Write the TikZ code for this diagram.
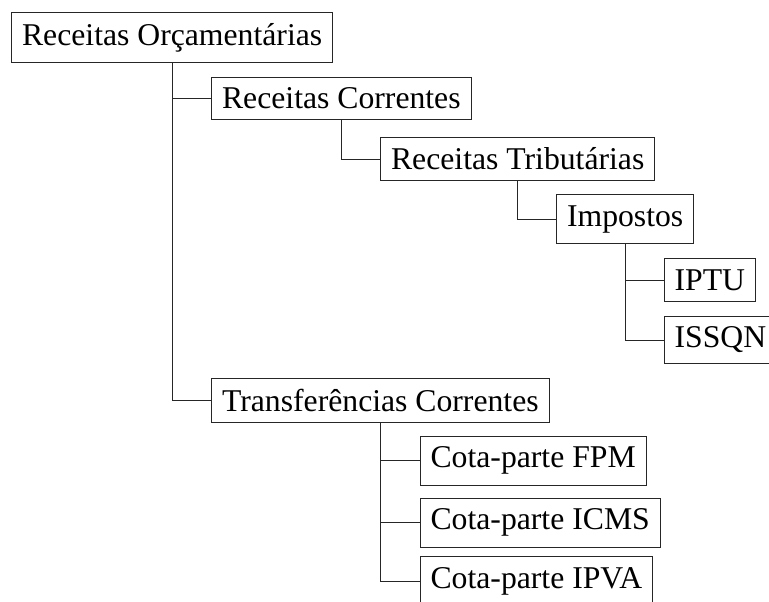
\documentclass[tikz,border=0pt]{standalone}
\usepackage{fontspec}
\setmainfont{Liberation Serif}
\begin{document}
\begin{tikzpicture}[x=1pt,y=-1pt,
  box/.style={draw=black!85, line width=1pt, anchor=west, inner sep=10.57pt, font=\fontsize{31.7}{38}\selectfont},
  edge/.style={draw=black!85, line width=1pt}]
\useasboundingbox (0,0) rectangle (769,602);
\clip (0,0) rectangle (769,602);
\node[box] (ro) at (11,37.6) {Receitas Orçamentárias};
\node[box] (rc) at (211,98.3) {Receitas Correntes};
\node[box] (rt) at (380,159) {Receitas Tributárias};
\node[box] (imp) at (556,219) {Impostos};
\node[box] (iptu) at (663.5,280) {IPTU};
\node[box] (issqn) at (663.5,340) {ISSQN};
\node[box] (tc) at (211,400.7) {Transferências Correntes};
\node[box] (fpm) at (419.5,460.7) {Cota-parte FPM};
\node[box] (icms) at (419.5,522.7) {Cota-parte ICMS};
\node[box] (ipva) at (419.5,581) {Cota-parte IPVA};
\draw[edge] (ro.south) |- (rc.west);
\draw[edge] (ro.south) |- (tc.west);
\draw[edge] (rc.south) |- (rt.west);
\draw[edge] (rt.south) |- (imp.west);
\draw[edge] (imp.south) |- (iptu.west);
\draw[edge] (imp.south) |- (issqn.west);
\draw[edge] (tc.south) |- (fpm.west);
\draw[edge] (tc.south) |- (icms.west);
\draw[edge] (tc.south) |- (ipva.west);
\end{tikzpicture}
\end{document}
